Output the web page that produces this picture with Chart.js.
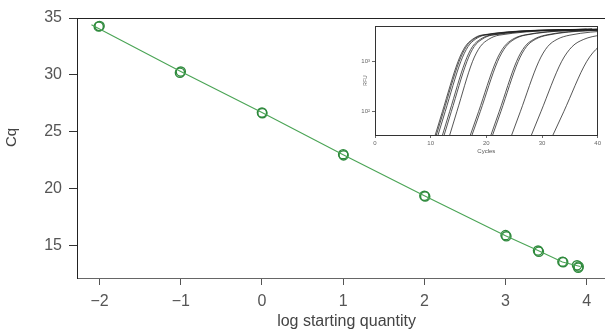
<!DOCTYPE html>
<html><head><meta charset="utf-8">
<script src="https://cdn.jsdelivr.net/npm/chart.js@4/dist/chart.umd.min.js"></script>
<style>
html,body{margin:0;padding:0;background:#fff;overflow:hidden;width:605px;height:329px}
#wrap{position:relative;width:605px;height:329px;overflow:hidden}
#main{position:absolute;left:0;top:0}
#inset{position:absolute;left:355px;top:20px}
</style></head><body>
<div id="wrap">
<canvas id="main" width="622" height="329"></canvas>
<canvas id="inset" width="250" height="140"></canvas>
</div>
<script>
// ---- main standard curve data ----
const xTicks = [-2, -1, 0, 1, 2, 3, 4];
const yTicks = [15, 20, 25, 30, 35];
const logQuantity = [-2, -2.01, -1, -1.01, 0, 0.005, 1, 1.005, 2, 2.01, 3, 3.01, 3.4, 3.41, 3.7, 3.71, 3.88, 3.9, 3.895];
const cqValues   = [34.3, 34.25, 30.3, 30.2, 26.7, 26.65, 23.05, 22.95, 19.4, 19.35, 15.95, 15.85, 14.6, 14.5, 13.62, 13.58, 13.3, 13.2, 13.1];
const fitX  = [-2.1, -1, 0, 1, 2, 3, 3.4, 3.7, 3.92];
const fitCq = [34.4, 30.3, 26.7, 23.0, 19.4, 15.9, 14.6, 13.6, 13.2];

// ---- inset amplification curves ----
const cycleTicks = [0, 10, 20, 30, 40];
const rfuTicks = [100, 1000];
const rfuTickLabels = ['10\u00b2', '10\u00b3'];
const rfuLevels = [25, 100, 1000, 2000, 2800, 3400, 4500];
const curveCycles = [
  [10.45, 12.1, 14.9, 16.2, 17.5, 19.1, 38],
  [10.65, 12.3, 15.1, 16.4, 17.7, 19.4, 39],
  [10.95, 12.6, 15.4, 16.7, 18.0, 19.7, 39],
  [11.75, 13.4, 16.2, 17.5, 18.9, 20.7, 40],
  [12.05, 13.7, 16.5, 17.8, 19.2, 21.0, 41],
  [13.05, 14.7, 17.5, 18.9, 20.4, 22.3, 42],
  [16.7, 18.6, 21.7, 23.2, 24.7, 26.7, 42],
  [17.0, 18.9, 22.0, 23.5, 25.0, 27.0, 43],
  [20.4, 22.3, 25.4, 26.9, 28.5, 30.6, 45],
  [20.7, 22.6, 25.7, 27.2, 28.8, 31.0, 46],
  [24.1, 26.1, 29.4, 31.0, 32.7, 35.0, 50],
  [27.6, 29.8, 33.5, 35.4, 37.5, 40.5, 52],
  [31.4, 33.9, 38.0, 40.2, 42.5, 45.0, 55]
];

const FONT = "'Liberation Sans', Arial, Helvetica, sans-serif";
const green = '#2f8a3d';
const lineGreen = '#4aa455';

const yTitlePlugin = {
  id: 'yTitle',
  afterDraw(chart) {
    const ctx = chart.ctx;
    ctx.save();
    ctx.translate(12, 137.5);
    ctx.rotate(-Math.PI / 2);
    ctx.fillStyle = '#444';
    ctx.font = '15px ' + FONT;
    ctx.textAlign = 'center';
    ctx.textBaseline = 'middle';
    ctx.fillText('Cq', 0, 0);
    ctx.restore();
  }
};

new Chart(document.getElementById('main'), {
  type: 'scatter',
  data: {
    datasets: [
      {
        type: 'line',
        data: fitX.map((x, i) => ({x, y: fitCq[i]})),
        borderColor: lineGreen,
        borderWidth: 1.1,
        pointRadius: 0,
        fill: false,
        tension: 0
      },
      {
        data: logQuantity.map((x, i) => ({x, y: cqValues[i]})),
        pointStyle: 'circle',
        pointRadius: 4.6,
        borderColor: green,
        borderWidth: 1.4,
        backgroundColor: 'rgba(0,0,0,0)'
      }
    ]
  },
  options: {
    responsive: false,
    animation: false,
    devicePixelRatio: 1,
    layout: {padding: {top: 18, left: 0, right: 0, bottom: 0}},
    plugins: {legend: {display: false}, tooltip: {enabled: false}},
    scales: {
      x: {
        type: 'linear', position: 'bottom', min: -2.278, max: 4.36,
        afterBuildTicks: s => { s.ticks = xTicks.map(v => ({value: v})); },
        afterFit: s => { s.height = 51; },
        grid: {display: true, drawOnChartArea: false, drawTicks: true, tickLength: 7, color: '#555', lineWidth: 1},
        border: {display: true, color: '#666', width: 1},
        ticks: {font: {family: FONT, size: 16}, color: '#555', padding: 7,
          callback: v => v < 0 ? '\u2212' + Math.abs(v) : String(v)},
        title: {display: true, text: 'log starting quantity', color: '#444',
          font: {family: FONT, size: 16, lineHeight: 1.0}, padding: {top: 0, bottom: -0.5}}
      },
      x2: {
        type: 'linear', position: 'top', min: -2.278, max: 4.36,
        grid: {display: false}, ticks: {display: false},
        border: {display: true, color: '#222', width: 1},
        afterFit: s => { s.height = 0; }
      },
      y: {
        type: 'linear', position: 'left', min: 12.19, max: 35,
        afterBuildTicks: s => { s.ticks = yTicks.map(v => ({value: v})); },
        afterFit: s => { s.width = 77; },
        grid: {display: true, drawOnChartArea: false, drawTicks: true, tickLength: 8, color: '#333', lineWidth: 1},
        border: {display: true, color: '#222', width: 1},
        ticks: {font: {family: FONT, size: 16}, color: '#555', padding: 7}
      }
    }
  },
  plugins: [yTitlePlugin]
});

new Chart(document.getElementById('inset'), {
  type: 'scatter',
  data: {
    datasets: curveCycles.map(cyc => ({
      type: 'line',
      data: cyc.map((c, i) => ({x: c, y: rfuLevels[i]})),
      borderColor: '#1e1e1e',
      borderWidth: 0.75,
      pointRadius: 0,
      fill: false,
      cubicInterpolationMode: 'monotone'
    }))
  },
  options: {
    responsive: false,
    animation: false,
    devicePixelRatio: 1,
    layout: {padding: {top: 6, left: 0, right: 7.3, bottom: 0}},
    plugins: {legend: {display: false}, tooltip: {enabled: false}},
    scales: {
      x: {
        type: 'linear', position: 'bottom', min: 0, max: 40,
        afterBuildTicks: s => { s.ticks = cycleTicks.map(v => ({value: v})); },
        afterFit: s => { s.height = 25; },
        grid: {display: true, drawOnChartArea: false, drawTicks: true, tickLength: 3, color: '#444', lineWidth: 0.8},
        border: {display: true, color: '#333', width: 1},
        ticks: {font: {family: FONT, size: 6}, color: '#666', padding: 1.5},
        title: {display: true, text: 'Cycles', color: '#555', font: {family: FONT, size: 6}, padding: {top: 0, bottom: 4.9}}
      },
      x2: {
        type: 'linear', position: 'top', min: 0, max: 40,
        grid: {display: false}, ticks: {display: false},
        border: {display: true, color: '#333', width: 1},
        afterFit: s => { s.height = 0; }
      },
      y: {
        type: 'logarithmic', position: 'left', min: 34.2, max: 5180,
        afterBuildTicks: s => { s.ticks = rfuTicks.map(v => ({value: v})); },
        afterFit: s => { s.width = 20; },
        grid: {display: true, drawOnChartArea: false, drawTicks: true, tickLength: 3, color: '#444', lineWidth: 0.8},
        border: {display: true, color: '#333', width: 1},
        ticks: {font: {family: FONT, size: 6}, color: '#666', padding: 2,
          callback: (v, i) => rfuTickLabels[rfuTicks.indexOf(v)]},
        title: {display: true, text: 'RFU', color: '#555', font: {family: FONT, size: 5}, padding: {top: 8, bottom: 0}}
      },
      y2: {
        type: 'logarithmic', position: 'right', min: 34.2, max: 5180,
        grid: {display: false}, ticks: {display: false},
        border: {display: true, color: '#333', width: 1},
        afterFit: s => { s.width = 0; }
      }
    }
  }
});
</script>
</body></html>
